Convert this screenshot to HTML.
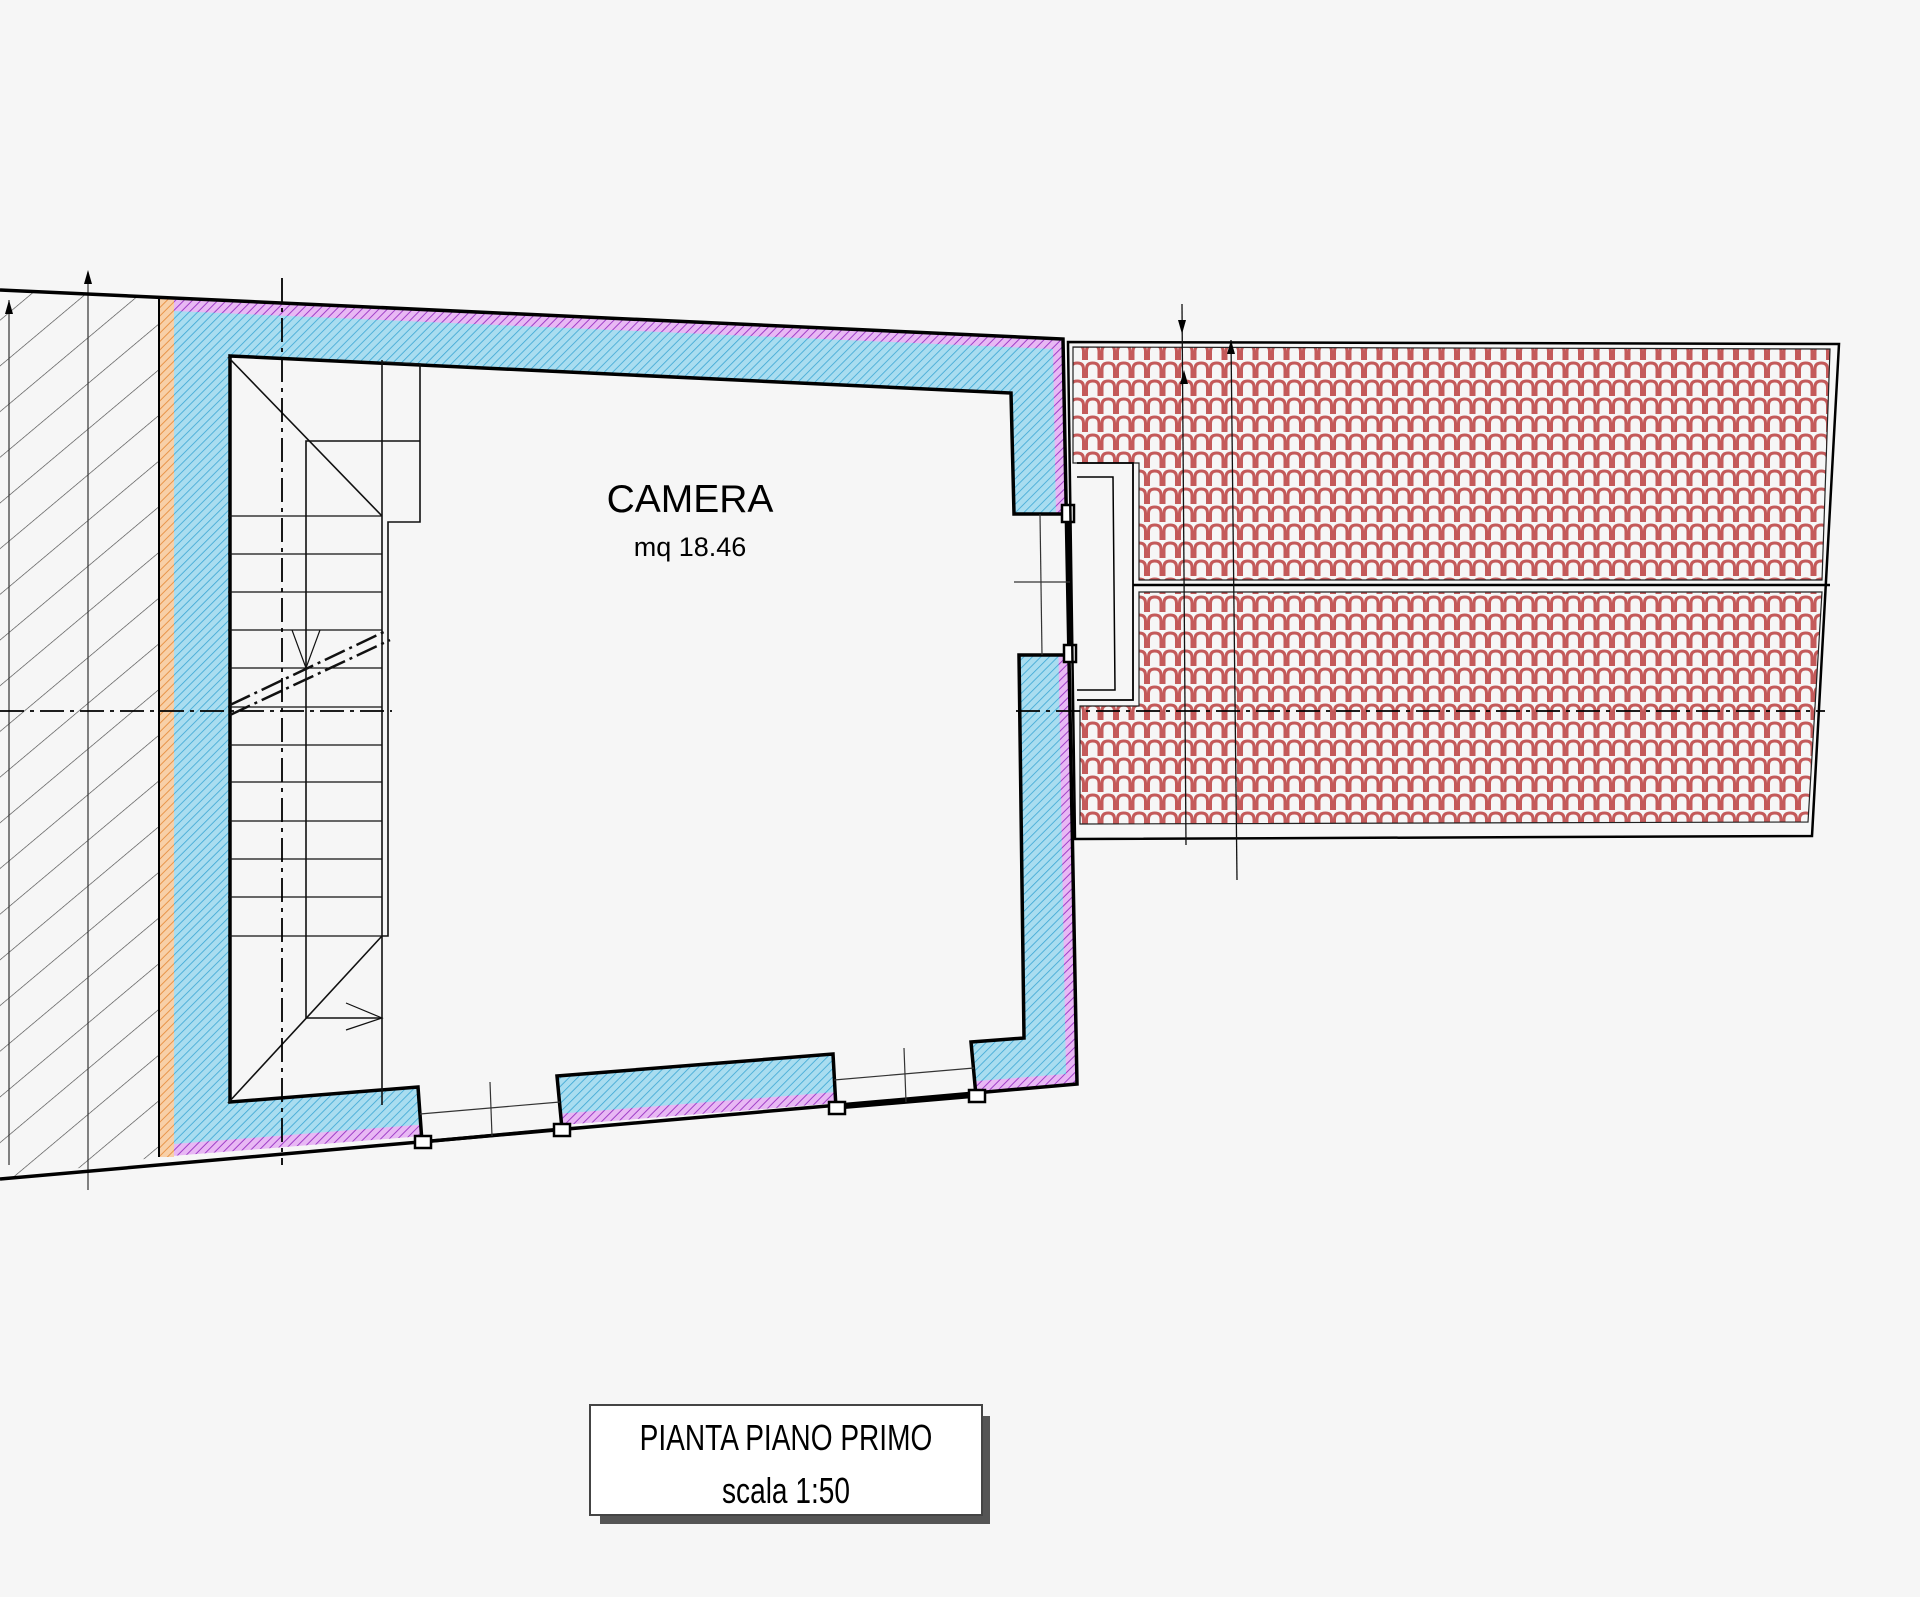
<!DOCTYPE html>
<html><head><meta charset="utf-8"><style>
html,body{margin:0;padding:0;background:#f6f6f6;}
svg{display:block;}
</style></head><body>
<svg width="1920" height="1597" viewBox="0 0 1920 1597" xmlns="http://www.w3.org/2000/svg">
<defs>
<pattern id="hb" width="6" height="6" patternUnits="userSpaceOnUse" patternTransform="rotate(45)">
<rect width="6" height="6" fill="#a9ddf0"/><line x1="0" y1="0" x2="0" y2="6" stroke="#3aa6d4" stroke-width="1.6"/></pattern>
<pattern id="hm" width="6" height="6" patternUnits="userSpaceOnUse" patternTransform="rotate(45)">
<rect width="6" height="6" fill="#e8b8f4"/><line x1="0" y1="0" x2="0" y2="6" stroke="#a040c8" stroke-width="2"/></pattern>
<pattern id="ho" width="6" height="6" patternUnits="userSpaceOnUse" patternTransform="rotate(45)">
<rect width="6" height="6" fill="#f8d0a8"/><line x1="0" y1="0" x2="0" y2="6" stroke="#e8954a" stroke-width="2"/></pattern>
<pattern id="hg" width="35" height="35" patternUnits="userSpaceOnUse" patternTransform="rotate(-40)">
<line x1="0" y1="0" x2="60" y2="0" stroke="#444" stroke-width="1.3"/></pattern>
<pattern id="tile" width="15.5" height="18" patternUnits="userSpaceOnUse">
<rect width="15.5" height="18" fill="#f6f6f6"/>
<path d="M1.5,18 L1.5,9 Q1.5,3 7.75,3 Q14,3 14,9 L14,18" fill="none" stroke="#c45a5a" stroke-width="3"/>
</pattern>
</defs>

<!-- left hatched neighbor -->
<polygon points="0,290 159,299 159,1157 0,1179" fill="url(#hg)"/>
<line x1="88" y1="272" x2="88" y2="1190" stroke="#333" stroke-width="1.2"/>
<line x1="9" y1="300" x2="9" y2="1165" stroke="#333" stroke-width="1.2"/>
<polygon points="88,270 84,284 92,284" fill="#000"/>
<polygon points="9,300 5,314 13,314" fill="#000"/>

<!-- walls -->
<polygon points="159,299 1063,339 1077,1084 159,1157" fill="url(#hm)"/>
<polygon points="174,311 1053,349 1066,1074 174,1144" fill="url(#hb)"/>
<rect x="159" y="299" width="15" height="858" fill="url(#ho)"/>
<polygon points="230,356 1011,393 1014,514 1068,514 1070,655 1019,655 1024,1038 971,1042 976,1096 836,1108 833,1054 557,1076 562,1129 422,1142 418,1087 230,1102" fill="#f6f6f6" stroke="#000" stroke-width="3.5" stroke-linejoin="miter"/>
<polyline points="0,290 1063,339 1077,1084 0,1179" fill="none" stroke="#000" stroke-width="3.5"/>
<line x1="159" y1="299" x2="159" y2="1157" stroke="#000" stroke-width="2"/>

<!-- windows -->
<g stroke="#333" stroke-width="1.2" fill="none">
<line x1="420" y1="1114" x2="560" y2="1102"/><line x1="490" y1="1082" x2="492" y2="1136"/>
<line x1="834" y1="1080" x2="974" y2="1068"/><line x1="904" y1="1048" x2="906" y2="1102"/>
<line x1="1014" y1="582" x2="1070" y2="582"/><line x1="1040" y1="514" x2="1042" y2="655"/>
</g>
<g fill="#fff" stroke="#000" stroke-width="2.5">
<rect x="1062" y="505" width="12" height="17"/><rect x="1064" y="645" width="12" height="17"/>
<rect x="415" y="1136" width="16" height="12"/><rect x="554" y="1124" width="16" height="12"/>
<rect x="829" y="1102" width="16" height="12"/><rect x="969" y="1090" width="16" height="12"/>
</g>

<!-- stair -->
<g stroke="#111" stroke-width="1.6" fill="none">
<line x1="382" y1="360" x2="382" y2="1105"/>
<polyline points="382,362 420,364 420,522 388,522 388,936 382,936"/>
<polyline points="306,1018 306,441 420,441"/>
<line x1="306" y1="1018" x2="382" y2="1018"/>
<line x1="228" y1="357" x2="382" y2="516"/>
<line x1="228" y1="1103" x2="382" y2="936"/>
<g stroke-width="1.3">
<line x1="228" y1="516" x2="382" y2="516"/><line x1="228" y1="554" x2="382" y2="554"/>
<line x1="228" y1="592" x2="382" y2="592"/><line x1="228" y1="630" x2="382" y2="630"/>
<line x1="228" y1="668" x2="382" y2="668"/><line x1="228" y1="707" x2="382" y2="707"/>
<line x1="228" y1="745" x2="382" y2="745"/><line x1="228" y1="782" x2="382" y2="782"/>
<line x1="228" y1="821" x2="382" y2="821"/><line x1="228" y1="859" x2="382" y2="859"/>
<line x1="228" y1="897" x2="382" y2="897"/><line x1="228" y1="936" x2="382" y2="936"/>
</g>
<polyline points="292,630 306,668 320,630" stroke-width="1.2"/>
<polyline points="346,1003 382,1018 346,1030" stroke-width="1.2"/>
<line x1="230" y1="705" x2="388" y2="630" stroke-width="2.5" stroke-dasharray="22,5,3,5"/>
<line x1="230" y1="715" x2="390" y2="640" stroke-width="2.5" stroke-dasharray="22,5,3,5"/>
</g>

<!-- roof -->
<polygon points="1068,342 1839,344 1812,836 1075,839" fill="none" stroke="#000" stroke-width="2.5"/>
<polygon points="1073,347 1830,349 1822,580 1139,580 1139,463 1073,463" fill="url(#tile)" stroke="#222" stroke-width="1.2"/>
<polygon points="1139,592 1822,592 1808,822 1080,824 1080,706 1139,706" fill="url(#tile)" stroke="#222" stroke-width="1.2"/>
<line x1="1133" y1="585" x2="1830" y2="585" stroke="#000" stroke-width="2.5"/>
<polyline points="1077,463 1133,463 1133,700 1077,700" fill="none" stroke="#000" stroke-width="1.8"/>
<polyline points="1077,477 1113,477 1115,690 1077,690" fill="none" stroke="#000" stroke-width="1.5"/>
<g stroke="#111" stroke-width="1.3">
<line x1="1182" y1="304" x2="1186" y2="845"/><line x1="1231" y1="340" x2="1237" y2="880"/>
</g>
<polygon points="1182,334 1178,320 1186,320" fill="#000"/>
<polygon points="1231,340 1227,354 1235,354" fill="#000"/>
<polygon points="1184,370 1180,384 1188,384" fill="#000"/>

<!-- center lines -->
<g stroke="#000" stroke-width="1.8" stroke-dasharray="24,6,4,6" fill="none">
<line x1="282" y1="278" x2="282" y2="1165"/>
<line x1="0" y1="711" x2="392" y2="711"/>
<line x1="1016" y1="711" x2="1825" y2="711"/>
</g>

<!-- labels -->
<text x="690" y="512" font-family="Liberation Sans, sans-serif" font-size="39" text-anchor="middle" fill="#000">CAMERA</text>
<text x="690" y="556" font-family="Liberation Sans, sans-serif" font-size="27" text-anchor="middle" fill="#000">mq 18.46</text>

<!-- title box -->
<rect x="600" y="1416" width="390" height="108" fill="#555"/>
<rect x="590" y="1405" width="392" height="110" fill="#fff" stroke="#444" stroke-width="2"/>
<g font-family="Liberation Sans, sans-serif" font-size="36" text-anchor="middle" fill="#000">
<text x="786" y="1450" transform="translate(786 0) scale(0.78 1) translate(-786 0)">PIANTA PIANO PRIMO</text>
<text x="786" y="1503" transform="translate(786 0) scale(0.78 1) translate(-786 0)">scala 1:50</text>
</g>
</svg>
</body></html>
